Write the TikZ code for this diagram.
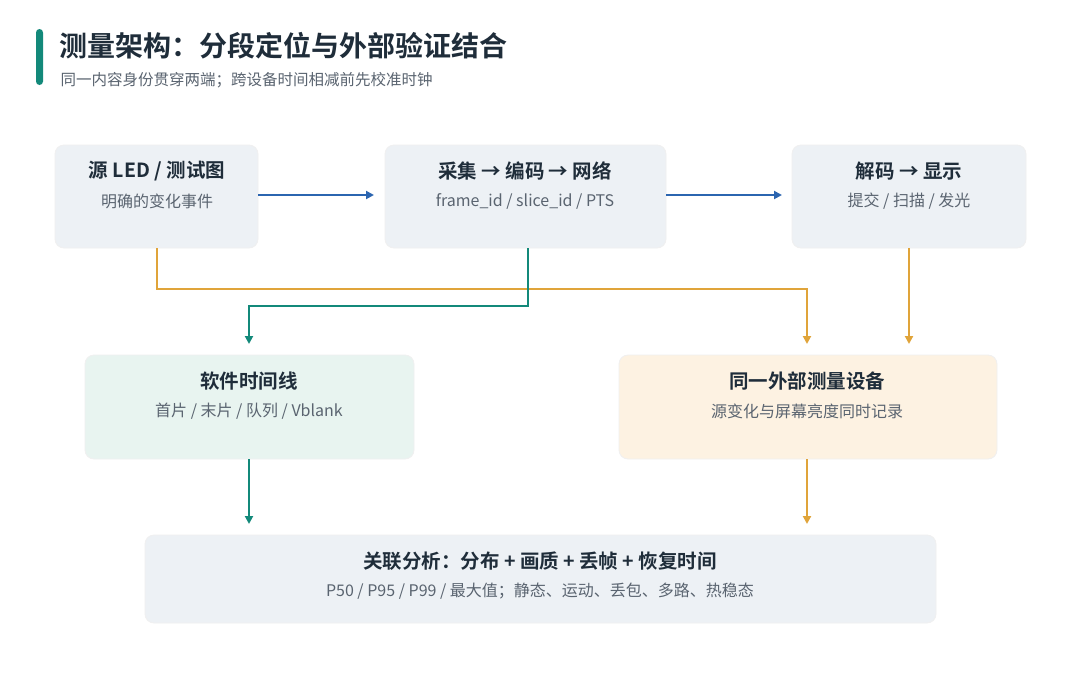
\documentclass[tikz,border=0pt]{standalone}
\usepackage{fontspec}
\setmainfont{Noto Sans CJK SC}[BoldFont={Noto Sans CJK SC Bold}]
\usetikzlibrary{arrows.meta}
\definecolor{tealc}{HTML}{13897A}
\definecolor{bluec}{HTML}{2B65B0}
\definecolor{orac}{HTML}{E0A43A}
\definecolor{boxg}{HTML}{EDF1F5}
\definecolor{boxt}{HTML}{E8F4F0}
\definecolor{boxo}{HTML}{FDF2E2}
\definecolor{titc}{HTML}{1F2D3A}
\definecolor{subc}{HTML}{5A6470}
\begin{document}
\begin{tikzpicture}[x=1pt,y=-1pt,
 box/.style={rounded corners=9pt,fill=boxg,draw=black!6,line width=0.8pt},
 ttl/.style={font=\bfseries\fontsize{19.5}{22}\selectfont,text=titc},
 sub/.style={font=\fontsize{16}{18}\selectfont,text=subc},
 arr/.style={line width=2.8pt,-{Triangle[length=8pt,width=8pt]}}]
\useasboundingbox[fill=white] (0,0) rectangle (1080,678);
\fill[tealc,rounded corners=3.5pt] (36,29) rectangle (43,85);
\node[anchor=west,font=\bfseries\fontsize{28}{32}\selectfont,text=titc] (T) at (56,46) {测量架构：分段定位与外部验证结合};
\node[anchor=west,font=\fontsize{15.5}{17}\selectfont,text=subc] (S) at (57,80) {同一内容身份贯穿两端；跨设备时间相减前先校准时钟};
\path[box] (55,145) rectangle (258,248);
\node[ttl] (At) at (157,171) {源 LED / 测试图};
\node[sub] (As) at (157,201) {明确的变化事件};
\path[box] (385,145) rectangle (666,248);
\node[ttl] (Bt) at (525,171) {采集 → 编码 → 网络};
\node[sub] (Bs) at (525,201) {frame\_id / slice\_id / PTS};
\path[box] (792,145) rectangle (1026,248);
\node[ttl] (Ct) at (909,171) {解码 → 显示};
\node[sub] (Cs) at (909,201) {提交 / 扫描 / 发光};
\path[box,fill=boxt] (85,355) rectangle (414,459);
\node[ttl] (Dt) at (249,381) {软件时间线};
\node[sub] (Ds) at (249,411) {首片 / 末片 / 队列 / Vblank};
\path[box,fill=boxo] (619,355) rectangle (997,459);
\node[ttl] (Et) at (807,381) {同一外部测量设备};
\node[sub] (Es) at (807,411) {源变化与屏幕亮度同时记录};
\path[box] (145,535) rectangle (936,623);
\node[ttl] (Ft) at (540,561) {关联分析：分布 + 画质 + 丢帧 + 恢复时间};
\node[sub] (Fs) at (540,591) {P50 / P95 / P99 / 最大值；静态、运动、丢包、多路、热稳态};
\coordinate (p1) at (258,195); \coordinate (p2) at (374,195);
\coordinate (p3) at (666,195); \coordinate (p4) at (782,195);
\draw[arr,bluec] (p1) -- (p2);
\draw[arr,bluec] (p3) -- (p4);
\coordinate (o1) at (157,248); \coordinate (o2) at (807,344);
\coordinate (o3) at (909,248); \coordinate (o4) at (909,344);
\draw[arr,orac] (o1) |- (807,289) -- (o2);
\draw[arr,orac] (o3) -- (o4);
\coordinate (t1) at (528,248); \coordinate (t2) at (249,344);
\draw[arr,tealc] (t1) |- (249,306) -- (t2);
\coordinate (d1) at (249,459); \coordinate (d2) at (249,524);
\coordinate (e1) at (807,459); \coordinate (e2) at (807,524);
\draw[arr,tealc] (d1) -- (d2);
\draw[arr,orac] (e1) -- (e2);
\end{tikzpicture}
\end{document}
